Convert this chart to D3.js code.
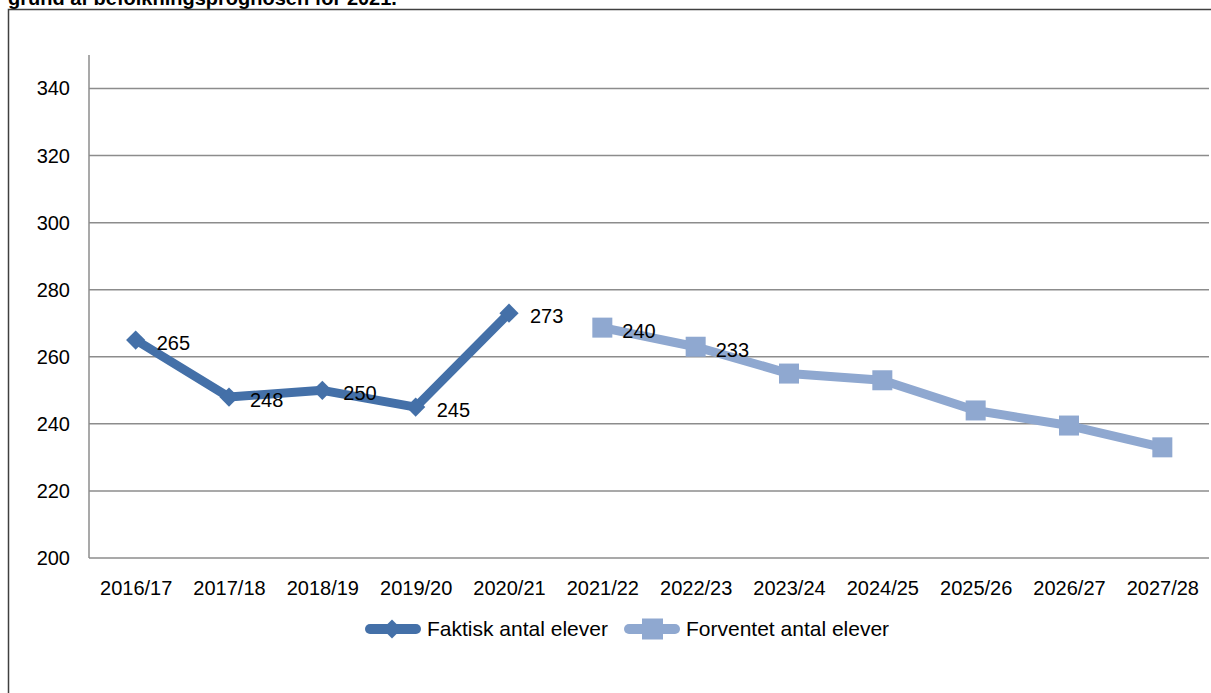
<!DOCTYPE html>
<html><head><meta charset="utf-8">
<script src="https://cdn.jsdelivr.net/npm/d3@7"></script>
<style>body{margin:0;background:#fff;}svg{display:block;font-family:"Liberation Sans",Arial,sans-serif;}</style>
</head><body>
<svg id="c" width="1211" height="693"></svg>
<script>
const categories = ["2016/17","2017/18","2018/19","2019/20","2020/21","2021/22","2022/23","2023/24","2024/25","2025/26","2026/27","2027/28"];
const faktisk = [265, 248, 250, 245, 273, null, null, null, null, null, null, null];
const forventet = [null, null, null, null, null, 268.7, 263, 255, 253, 244, 239.5, 233];
const faktiskLabels = ["265","248","250","245","273"];
const forventetLabels = ["240","233"];
const yTicks = [200, 220, 240, 260, 280, 300, 320, 340];
const seriesNames = ["Faktisk antal elever", "Forventet antal elever"];
const title = "grund af befolkningsprognosen for 2021.";

(function () {
const svg = d3.select("#c");
const colA = "#4470A8", colB = "#8FA8D0", gridCol = "#8c8c8c";
const pLeft = 89, pRight = 1209, pTop = 55, pBottom = 558;
const fs = 20;

svg.append("text").attr("x", 8).attr("y", 5).attr("font-size", 20).attr("font-weight", "bold").attr("fill", "#000").text(title);
svg.append("rect").attr("x", 8.5).attr("y", 9.5).attr("width", 1300).attr("height", 800).attr("fill", "none").attr("stroke", "#404040").attr("stroke-width", 1.5);

const x = d3.scalePoint().domain(categories).range([pLeft, pRight]).padding(0.5);
const y = d3.scaleLinear().domain([200, 350]).range([pBottom, pTop]);

svg.append("g").selectAll("line").data(yTicks.filter(t => t > 200)).join("line")
  .attr("x1", pLeft).attr("x2", pRight).attr("y1", d => y(d)).attr("y2", d => y(d))
  .attr("stroke", gridCol).attr("stroke-width", 1.5);

const yAxis = svg.append("g").attr("transform", `translate(${pLeft},0)`)
  .call(d3.axisLeft(y).tickValues(yTicks).tickSize(0).tickPadding(19));
yAxis.select(".domain").remove();
yAxis.selectAll("text").attr("font-size", fs).attr("fill", "#000").attr("font-family", "Liberation Sans, Arial, sans-serif");
svg.append("line").attr("x1", pLeft).attr("x2", pLeft).attr("y1", pTop).attr("y2", pBottom).attr("stroke", gridCol).attr("stroke-width", 1.5);

const xAxis = svg.append("g").attr("transform", `translate(0,${pBottom})`)
  .call(d3.axisBottom(x).tickSize(0).tickPadding(23));
xAxis.select(".domain").attr("stroke", gridCol).attr("stroke-width", 1.5).attr("d", `M${pLeft},0H${pRight}`);
xAxis.selectAll("text").attr("font-size", fs).attr("fill", "#000").attr("font-family", "Liberation Sans, Arial, sans-serif");

const line = d3.line().defined(d => d[1] != null).x(d => x(d[0])).y(d => y(d[1]));
const dA = categories.map((c, i) => [c, faktisk[i]]);
const dB = categories.map((c, i) => [c, forventet[i]]);

svg.append("path").datum(dA).attr("d", line).attr("fill", "none").attr("stroke", colA).attr("stroke-width", 9).attr("stroke-linejoin", "round").attr("stroke-linecap", "round");
svg.append("path").datum(dB).attr("d", line).attr("fill", "none").attr("stroke", colB).attr("stroke-width", 9).attr("stroke-linejoin", "round").attr("stroke-linecap", "round");

svg.append("g").selectAll("path").data(dA.filter(d => d[1] != null)).join("path")
  .attr("d", d3.symbol().type(d3.symbolSquare).size(185))
  .attr("transform", d => `translate(${x(d[0])},${y(d[1])}) rotate(45)`)
  .attr("fill", colA);
svg.append("g").selectAll("rect").data(dB.filter(d => d[1] != null)).join("rect")
  .attr("x", d => x(d[0]) - 10).attr("y", d => y(d[1]) - 10).attr("width", 20).attr("height", 20).attr("fill", colB);

svg.append("g").selectAll("text").data(dA.filter(d => d[1] != null)).join("text")
  .attr("x", d => x(d[0]) + 21).attr("y", d => y(d[1]) + 10)
  .attr("font-size", fs).attr("fill", "#000").text((d, i) => faktiskLabels[i]);
svg.append("g").selectAll("text").data(dB.filter(d => d[1] != null).slice(0, forventetLabels.length)).join("text")
  .attr("x", d => x(d[0]) + 20).attr("y", d => y(d[1]) + 10)
  .attr("font-size", fs).attr("fill", "#000").text((d, i) => forventetLabels[i]);

const ly = 629;
const lg = svg.append("g");
lg.append("line").attr("x1", 370).attr("x2", 416).attr("y1", ly).attr("y2", ly).attr("stroke", colA).attr("stroke-width", 10).attr("stroke-linecap", "round");
lg.append("path").attr("d", d3.symbol().type(d3.symbolSquare).size(180)).attr("transform", `translate(392,${ly}) rotate(45)`).attr("fill", colA);
lg.append("text").attr("x", 427).attr("y", ly + 7).attr("font-size", 21).attr("fill", "#000").text(seriesNames[0]);
lg.append("line").attr("x1", 629).attr("x2", 675).attr("y1", ly).attr("y2", ly).attr("stroke", colB).attr("stroke-width", 10).attr("stroke-linecap", "round");
lg.append("rect").attr("x", 642).attr("y", ly - 10.5).attr("width", 21).attr("height", 21).attr("fill", colB);
lg.append("text").attr("x", 686).attr("y", ly + 7).attr("font-size", 21).attr("fill", "#000").text(seriesNames[1]);
})();
</script>
</body></html>
